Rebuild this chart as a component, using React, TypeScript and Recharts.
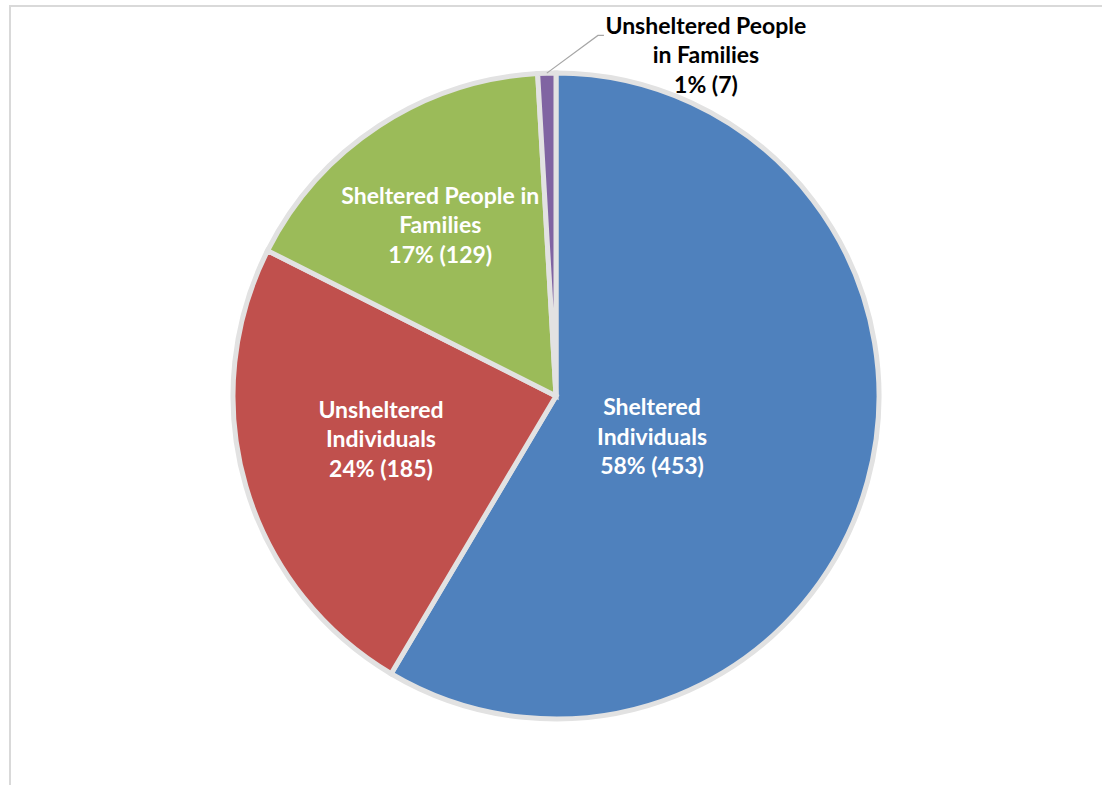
import { PieChart, Pie, Cell } from 'recharts'

const categories = [
  'Sheltered Individuals',
  'Unsheltered Individuals',
  'Sheltered People in Families',
  'Unsheltered People in Families'
]
const values = [453, 185, 129, 7]
const percentLabels = ['58%', '24%', '17%', '1%']
const labelLines = [
  ['Sheltered', 'Individuals'],
  ['Unsheltered', 'Individuals'],
  ['Sheltered People in', 'Families'],
  ['Unsheltered People', 'in Families']
]

const colors = ['#4F81BD', '#C0504D', '#9BBB59', '#8064A2']

// where each label sits, as angle from the pie centre and distance
const labelSpots = [
  { angle: -22.6, r: 104 },
  { angle: -166.5, r: 180 },
  { angle: 124, r: 207 },
  { angle: 66.3, r: 373 }
]

const data = categories.map((name, i) => ({ name, value: values[i] }))

const RAD = Math.PI / 180
const LINE_H = 29.5

const renderLabel = (props: any) => {
  const { cx, cy, midAngle, outerRadius, index } = props
  const spot = labelSpots[index]
  const x = cx + spot.r * Math.cos(-spot.angle * RAD)
  const y = cy + spot.r * Math.sin(-spot.angle * RAD)
  const lines = [...labelLines[index], `${percentLabels[index]} (${values[index]})`]
  const outside = index === 3
  const fill = outside ? '#000' : '#fff'
  let leader = null
  if (outside) {
    const sx = cx + outerRadius * Math.cos(-midAngle * RAD)
    const sy = cy + outerRadius * Math.sin(-midAngle * RAD)
    leader = (
      <polyline
        points={`${sx},${sy} ${x - 108},${y - 19} ${x - 102},${y - 19}`}
        fill='none'
        stroke='#a6a6a6'
        strokeWidth={1.2}
      />
    )
  }
  return (
    <g key={`lbl-${index}`}>
      {leader}
      <text
        x={x}
        y={y}
        textAnchor='middle'
        fill={fill}
        fontFamily='Lato, "Open Sans", sans-serif'
        fontWeight={700}
        fontSize={23}
      >
        {lines.map((l, i) => (
          <tspan key={i} x={x} y={y + (i - 1) * LINE_H} dominantBaseline='central'>
            {l}
          </tspan>
        ))}
      </text>
    </g>
  )
}

export default function App() {
  return (
    <div style={{ position: 'relative', width: 1102, height: 785, overflow: 'hidden', background: '#fff' }}>
      <style>{'body{margin:0}'}</style>
      <div
        style={{
          position: 'absolute',
          left: 9,
          top: 5,
          width: 1200,
          height: 900,
          borderTop: '2px solid #d9d9d9',
          borderLeft: '2px solid #d9d9d9'
        }}
      />
      <div style={{ position: 'absolute', left: 0, top: 0 }}>
        <PieChart width={1102} height={785} margin={{ top: 0, right: 0, bottom: 0, left: 0 }}>
          <Pie
            data={data}
            dataKey='value'
            nameKey='name'
            cx={556}
            cy={396}
            outerRadius={323}
            startAngle={90}
            endAngle={-270}
            stroke='#e2e2e2'
            strokeWidth={5}
            label={renderLabel}
            labelLine={false}
            isAnimationActive={false}
          >
            {data.map((entry, index) => (
              <Cell key={`cell-${index}`} fill={colors[index]} />
            ))}
          </Pie>
        </PieChart>
      </div>
    </div>
  )
}
